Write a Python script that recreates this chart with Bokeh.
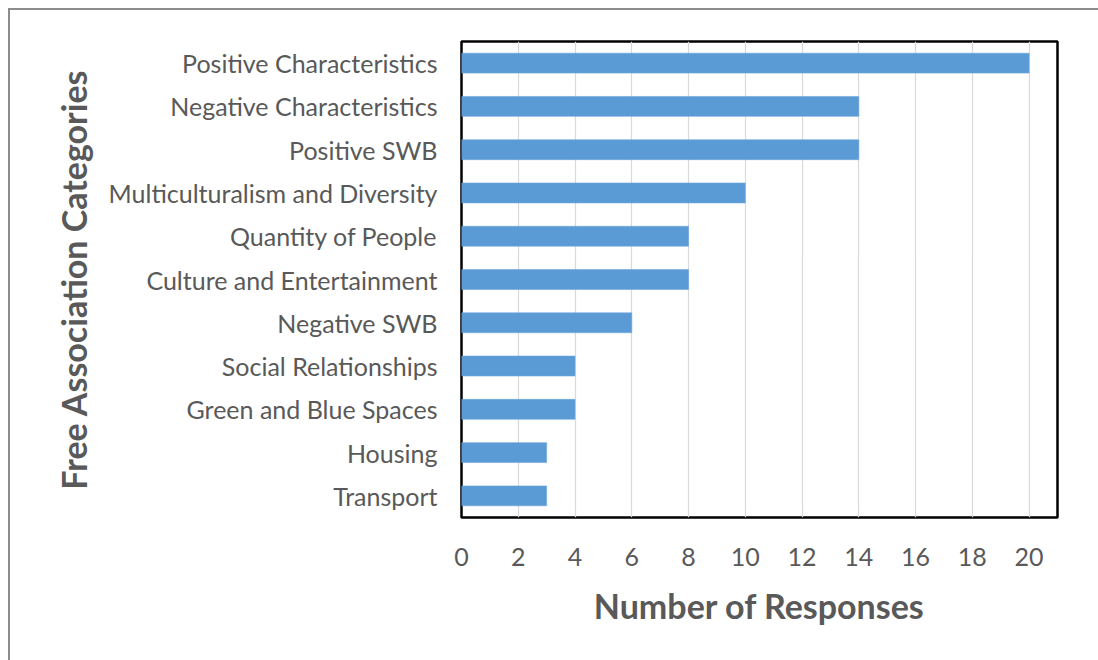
from bokeh.plotting import figure
from bokeh.models import FixedTicker, Range1d, FactorRange, InlineStyleSheet
from bokeh.embed import file_html
from bokeh.resources import INLINE

# Free association categories (top to bottom) and their response counts
categories = [
    "Positive Characteristics",
    "Negative Characteristics",
    "Positive SWB",
    "Multiculturalism and Diversity",
    "Quantity of People",
    "Culture and Entertainment",
    "Negative SWB",
    "Social Relationships",
    "Green and Blue Spaces",
    "Housing",
    "Transport",
]
responses = [20, 14, 14, 10, 8, 8, 6, 4, 4, 3, 3]
x_ticks = [0, 2, 4, 6, 8, 10, 12, 14, 16, 18, 20]

FONT = "Lato"
GREY = "#595959"

p = figure(
    width=1098, height=660,
    y_range=FactorRange(*reversed(categories), range_padding=0),
    x_range=Range1d(0, 21),
    output_backend="svg", toolbar_location=None,
    min_border_left=461, min_border_right=41,
    min_border_top=41, min_border_bottom=143,
    background_fill_color="white", border_fill_color="white",
)

p.hbar(y=categories, right=responses, height=0.46,
       fill_color="#5B9BD5", line_color="#6ea6da", line_width=0.6)

# frame outline
p.outline_line_color = "black"
p.outline_line_width = 2.5

# grid: vertical lines at each labelled tick
p.ygrid.grid_line_color = None
p.xgrid.grid_line_color = "#d9d9d9"
p.xgrid.grid_line_width = 1.2
p.xaxis.ticker = FixedTicker(ticks=x_ticks)

for ax in (p.xaxis, p.yaxis):
    ax.axis_line_color = None
    ax.major_tick_line_color = None
    ax.minor_tick_line_color = None
    ax.major_tick_out = 0
    ax.major_tick_in = 0
    ax.major_label_text_font = FONT
    ax.major_label_text_color = GREY
    ax.major_label_text_font_size = "25px"
    ax.axis_label_text_font = FONT
    ax.axis_label_text_font_style = "bold"
    ax.axis_label_text_color = GREY
    ax.axis_label_text_font_size = "34px"

p.yaxis.axis_label = "Free Association Categories"
p.yaxis.major_label_standoff = 24
p.yaxis.axis_label_standoff = 12

p.xaxis.axis_label = "Number of Responses"
p.xaxis.major_label_standoff = 30
p.xaxis.axis_label_standoff = 16

# outer chart border (left and top edges)
p.stylesheets = [InlineStyleSheet(css="""
:host::after {
  content: "";
  position: absolute;
  left: 8px; top: 8px;
  width: 1090px; height: 652px;
  box-sizing: border-box;
  border-left: 2px solid #8c8c8c;
  border-top: 2px solid #8c8c8c;
  pointer-events: none;
  z-index: 10;
}
""")]

open("out.html", "w").write(file_html(p, INLINE))
